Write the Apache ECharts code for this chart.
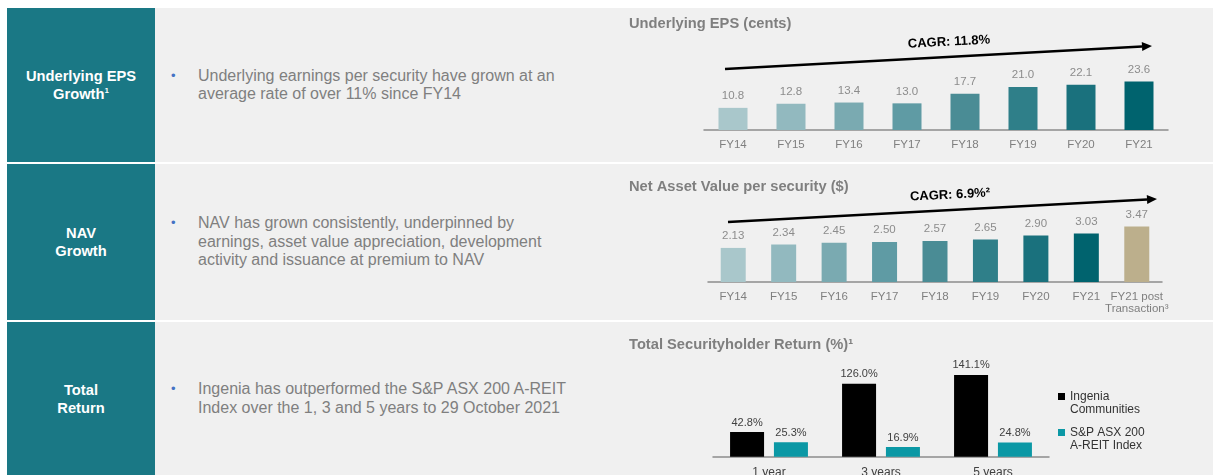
<!DOCTYPE html>
<html>
<head>
<meta charset="utf-8">
<script src="https://cdn.jsdelivr.net/npm/echarts@6/dist/echarts.min.js"></script>
<style>
  html, body { margin: 0; padding: 0; background: #fff; }
  body { width: 1213px; height: 475px; position: relative; overflow: hidden; font-family: "Liberation Sans", Arial, sans-serif; }
  .row { position: absolute; left: 7px; width: 1206px; background: #f0f0f0; }
  .tag { position: absolute; left: 0; top: 0; bottom: 0; width: 148px; background: #1a7885;
         display: flex; align-items: center; justify-content: center; text-align: center;
         color: #fff; font-weight: bold; font-size: 14.7px; line-height: 18px; }
  .tag sup { font-size: 8px; line-height: 0; vertical-align: 6px; }
  .txt { position: absolute; left: 191px; top: 0; bottom: 0; display: flex; align-items: center;
         color: #7f7f7f; font-size: 16px; line-height: 18.5px; }
  .lines { position: relative; }
  .dot { position: absolute; left: -27px; top: 0; color: #4472c4; font-size: 13px; }
  #chart { position: absolute; left: 610px; top: 0; width: 603px; height: 475px; }
</style>
</head>
<body>
<div class="row" style="top:8px;height:154px">
  <div class="tag"><div>Underlying EPS<br>Growth<sup>1</sup></div></div>
  <div class="txt"><div class="lines"><span class="dot">&bull;</span>Underlying earnings per security have grown at an<br>average rate of over 11% since FY14</div></div>
</div>
<div class="row" style="top:164px;height:156px">
  <div class="tag"><div>NAV<br>Growth</div></div>
  <div class="txt"><div class="lines"><span class="dot">&bull;</span>NAV has grown consistently, underpinned by<br>earnings, asset value appreciation, development<br>activity and issuance at premium to NAV</div></div>
</div>
<div class="row" style="top:322px;height:153px">
  <div class="tag"><div>Total<br>Return</div></div>
  <div class="txt"><div class="lines"><span class="dot">&bull;</span>Ingenia has outperformed the S&amp;P ASX 200 A-REIT<br>Index over the 1, 3 and 5 years to 29 October 2021</div></div>
</div>
<div id="chart"></div>
<script>
// data
const epsYears = ['FY14', 'FY15', 'FY16', 'FY17', 'FY18', 'FY19', 'FY20', 'FY21'];
const epsValues = [10.8, 12.8, 13.4, 13.0, 17.7, 21.0, 22.1, 23.6];
const navYears = ['FY14', 'FY15', 'FY16', 'FY17', 'FY18', 'FY19', 'FY20', 'FY21', 'FY21 post\nTransaction\u00b3'];
const navValues = [2.13, 2.34, 2.45, 2.50, 2.57, 2.65, 2.90, 3.03, 3.47];
const tsrPeriods = ['1 year', '3 years', '5 years'];
const ingeniaTsr = [42.8, 126.0, 141.1];
const asxTsr = [25.3, 16.9, 24.8];

const tealShades = ['#a9c7cb', '#92b9bf', '#7aaab1', '#5f9ba4', '#4a8c95', '#2f7f89', '#1a717d', '#00636e'];
const tan = '#bcaf8c';
const FONT = '"Liberation Sans", Arial, sans-serif';
// square marker sitting at the top of a taller box, so it lines up with the first legend line
const legendIcon = 'path://M0,0h7v7h-7z M0,19.99h7v0.01h-7z';

function coloured(values, colors) {
  return values.map((v, i) => ({ value: v, itemStyle: { color: colors[i] } }));
}

// arrow: line + head, coords relative to chart div
function arrow(x1, y1, x2, y2) {
  const a = Math.atan2(y2 - y1, x2 - x1);
  const len = 10, half = 4.5;
  const bx = x2 - len * Math.cos(a), by = y2 - len * Math.sin(a);
  const px = -Math.sin(a) * half, py = Math.cos(a) * half;
  return [
    { type: 'line', shape: { x1: x1, y1: y1, x2: bx, y2: by }, style: { stroke: '#000', lineWidth: 2.5 } },
    { type: 'polygon', shape: { points: [[x2, y2], [bx + px, by + py], [bx - px, by - py]] }, style: { fill: '#000' } }
  ];
}

function cagrText(text, x, y) {
  return {
    type: 'text', x: x, y: y, rotation: 0.05,
    style: { text: text, font: 'bold 13px ' + FONT, fill: '#000', align: 'center', verticalAlign: 'middle' }
  };
}

const titleStyle = { color: '#7f7f7f', fontSize: 14.7, fontWeight: 'bold', fontFamily: FONT };

const axisCommon = {
  type: 'category',
  axisTick: { show: false },
  axisLine: { lineStyle: { color: '#8c8c8c', width: 1.5 } },
  axisLabel: { interval: 0, color: '#7f7f7f', fontSize: 11.5, fontFamily: FONT, margin: 9, lineHeight: 12 }
};

let myChart = echarts.init(document.getElementById('chart'));
let option = {
  animation: false,
  textStyle: { fontFamily: FONT },
  title: [
    { text: 'Underlying EPS (cents)', left: 19, top: 16, padding: 0, textStyle: titleStyle },
    { text: 'Net Asset Value per security ($)', left: 19, top: 179, padding: 0, textStyle: titleStyle },
    { text: 'Total Securityholder Return (%)\u00b9', left: 19, top: 337, padding: 0, textStyle: titleStyle }
  ],
  grid: [
    { left: 94, top: 68.5, width: 464, height: 61.5, outerBoundsMode: 'none' },
    { left: 98, top: 218, width: 454, height: 64, outerBoundsMode: 'none' },
    { left: 103, top: 364, width: 336, height: 92.8, outerBoundsMode: 'none' }
  ],
  xAxis: [
    Object.assign({}, axisCommon, { gridIndex: 0, data: epsYears }),
    Object.assign({}, axisCommon, { gridIndex: 1, data: navYears }),
    Object.assign({}, axisCommon, { gridIndex: 2, data: tsrPeriods,
      axisLabel: { interval: 0, color: '#404040', fontSize: 12, fontFamily: FONT, margin: 10 } })
  ],
  yAxis: [
    { gridIndex: 0, type: 'value', min: 0, max: 30, show: false },
    { gridIndex: 1, type: 'value', min: 0, max: 4, show: false },
    { gridIndex: 2, type: 'value', min: 0, max: 160, show: false }
  ],
  legend: {
    orient: 'vertical', left: 448, top: 390, padding: 0,
    icon: legendIcon, itemWidth: 7, itemHeight: 20, itemGap: 10,
    textStyle: { color: '#333', fontSize: 12, lineHeight: 13, fontFamily: FONT },
    data: ['Ingenia\nCommunities', 'S&P ASX 200\nA-REIT Index']
  },
  series: [
    {
      type: 'bar', xAxisIndex: 0, yAxisIndex: 0, barWidth: 29,
      data: coloured(epsValues, tealShades),
      label: { show: true, position: 'top', distance: 6, color: '#8c8c8c', fontSize: 11.5,
        formatter: p => p.value.toFixed(1) }
    },
    {
      type: 'bar', xAxisIndex: 1, yAxisIndex: 1, barWidth: 25,
      data: coloured(navValues, tealShades.concat([tan])),
      label: { show: true, position: 'top', distance: 6, color: '#8c8c8c', fontSize: 11.5,
        formatter: p => p.value.toFixed(2) }
    },
    {
      name: 'Ingenia\nCommunities', type: 'bar', xAxisIndex: 2, yAxisIndex: 2,
      barWidth: 34, barGap: '29%', itemStyle: { color: '#000' },
      data: ingeniaTsr,
      label: { show: true, position: 'top', distance: 4, color: '#404040', fontSize: 11,
        formatter: p => p.value.toFixed(1) + '%' }
    },
    {
      name: 'S&P ASX 200\nA-REIT Index', type: 'bar', xAxisIndex: 2, yAxisIndex: 2,
      barWidth: 34, barGap: '29%', itemStyle: { color: '#0b98a5' },
      data: asxTsr,
      label: { show: true, position: 'top', distance: 4, color: '#404040', fontSize: 11,
        formatter: p => p.value.toFixed(1) + '%' }
    }
  ],
  graphic: [].concat(
    arrow(115, 69, 542, 46),
    [cagrText('CAGR: 11.8%', 339, 42)],
    arrow(118, 222, 547, 199),
    [cagrText('CAGR: 6.9%\u00b2', 340, 195)]
  )
};
myChart.setOption(option);
</script>
</body>
</html>
